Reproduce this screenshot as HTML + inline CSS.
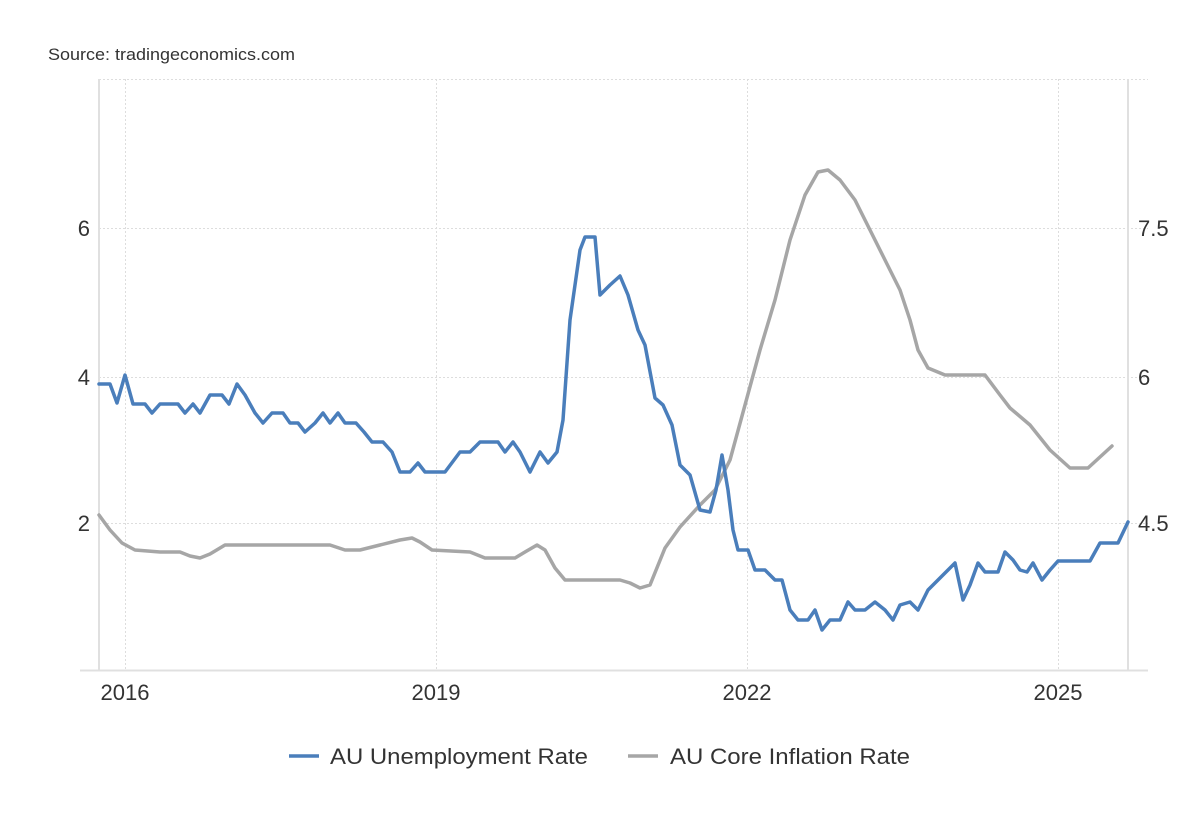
<!DOCTYPE html>
<html><head><meta charset="utf-8"><style>
html,body{margin:0;padding:0;background:#fff;}
svg{display:block;font-family:"Liberation Sans",Arial,sans-serif;}
</style></head><body>
<svg width="1200" height="820" viewBox="0 0 1200 820" xmlns="http://www.w3.org/2000/svg">
<text x="48" y="60" font-size="17" fill="#333" textLength="247" lengthAdjust="spacingAndGlyphs">Source: tradingeconomics.com</text>
<g stroke="#ddd" stroke-width="1" stroke-dasharray="2,2" fill="none">
<line x1="99" y1="79.5" x2="1148" y2="79.5"/>
<line x1="99" y1="228.5" x2="1148" y2="228.5"/>
<line x1="99" y1="377.5" x2="1148" y2="377.5"/>
<line x1="99" y1="523.5" x2="1148" y2="523.5"/>
<line x1="125.5" y1="79" x2="125.5" y2="670"/>
<line x1="436.5" y1="79" x2="436.5" y2="670"/>
<line x1="747.5" y1="79" x2="747.5" y2="670"/>
<line x1="1058.5" y1="79" x2="1058.5" y2="670"/>
</g>
<g stroke="#e0e0e0" stroke-width="2" fill="none">
<line x1="99" y1="79" x2="99" y2="670"/>
<line x1="1128" y1="79" x2="1128" y2="670"/>
<line x1="80" y1="670.5" x2="1148" y2="670.5"/>
</g>
<g font-size="22" fill="#333">
<text x="90" y="236" text-anchor="end">6</text>
<text x="90" y="385" text-anchor="end">4</text>
<text x="90" y="531" text-anchor="end">2</text>
<text x="1138" y="236">7.5</text>
<text x="1138" y="385">6</text>
<text x="1138" y="531">4.5</text>
<text x="125" y="700" text-anchor="middle">2016</text>
<text x="436" y="700" text-anchor="middle">2019</text>
<text x="747" y="700" text-anchor="middle">2022</text>
<text x="1058" y="700" text-anchor="middle">2025</text>
</g>
<polyline fill="none" stroke="#a6a6a6" stroke-width="3.5" stroke-linejoin="round" stroke-linecap="round" points="99,515 110,530 122,543 135,550 160,552 180,552 190,556 200,558 210,554 225,545 260,545 330,545 345,550 360,550 380,545 400,540 412,538 420,542 432,550 470,552 485,558 515,558 525,552 537,545 545,550 555,568 565,580 620,580 630,583 640,588 650,585 665,548 680,527 700,505 715,490 730,460 745,405 760,350 775,300 790,240 805,195 818,172 828,170 840,180 855,200 870,230 885,260 900,290 910,320 918,350 928,368 945,375 985,375 1000,395 1010,408 1030,425 1050,450 1070,468 1088,468 1100,457 1112,446"/>
<polyline fill="none" stroke="#4a7ebb" stroke-width="3.5" stroke-linejoin="round" stroke-linecap="round" points="99,384 110,384 117,403 125,375 133,404 145,404 152,413 160,404 178,404 185,413 193,404 200,413 210,395 222,395 229,404 237,384 245,395 255,413 263,423 272,413 283,413 290,423 298,423 305,432 315,423 323,413 330,423 338,413 345,423 356,423 364,432 372,442 383,442 392,452 400,472 410,472 418,463 425,472 445,472 460,452 470,452 480,442 498,442 505,452 513,442 520,452 530,472 540,452 548,463 557,452 563,420 570,320 580,250 585,237 595,237 600,295 610,285 620,276 628,295 638,330 645,345 655,398 663,405 672,425 680,465 690,475 700,510 710,512 716,490 722,455 728,490 733,530 738,550 748,550 755,570 765,570 775,580 782,580 790,610 798,620 808,620 815,610 822,630 830,620 840,620 848,602 855,610 865,610 875,602 885,610 893,620 900,605 910,602 918,610 928,590 938,580 948,570 955,563 963,600 970,585 978,563 985,572 998,572 1005,552 1013,560 1020,570 1027,572 1033,563 1042,580 1050,570 1058,561 1090,561 1100,543 1118,543 1128,522"/>
<line x1="289" y1="756" x2="319" y2="756" stroke="#4a7ebb" stroke-width="3.5"/>
<text x="330" y="764" font-size="22" fill="#333" textLength="258" lengthAdjust="spacingAndGlyphs">AU Unemployment Rate</text>
<line x1="628" y1="756" x2="658" y2="756" stroke="#a6a6a6" stroke-width="3.5"/>
<text x="670" y="764" font-size="22" fill="#333" textLength="240" lengthAdjust="spacingAndGlyphs">AU Core Inflation Rate</text>
</svg>
</body></html>
